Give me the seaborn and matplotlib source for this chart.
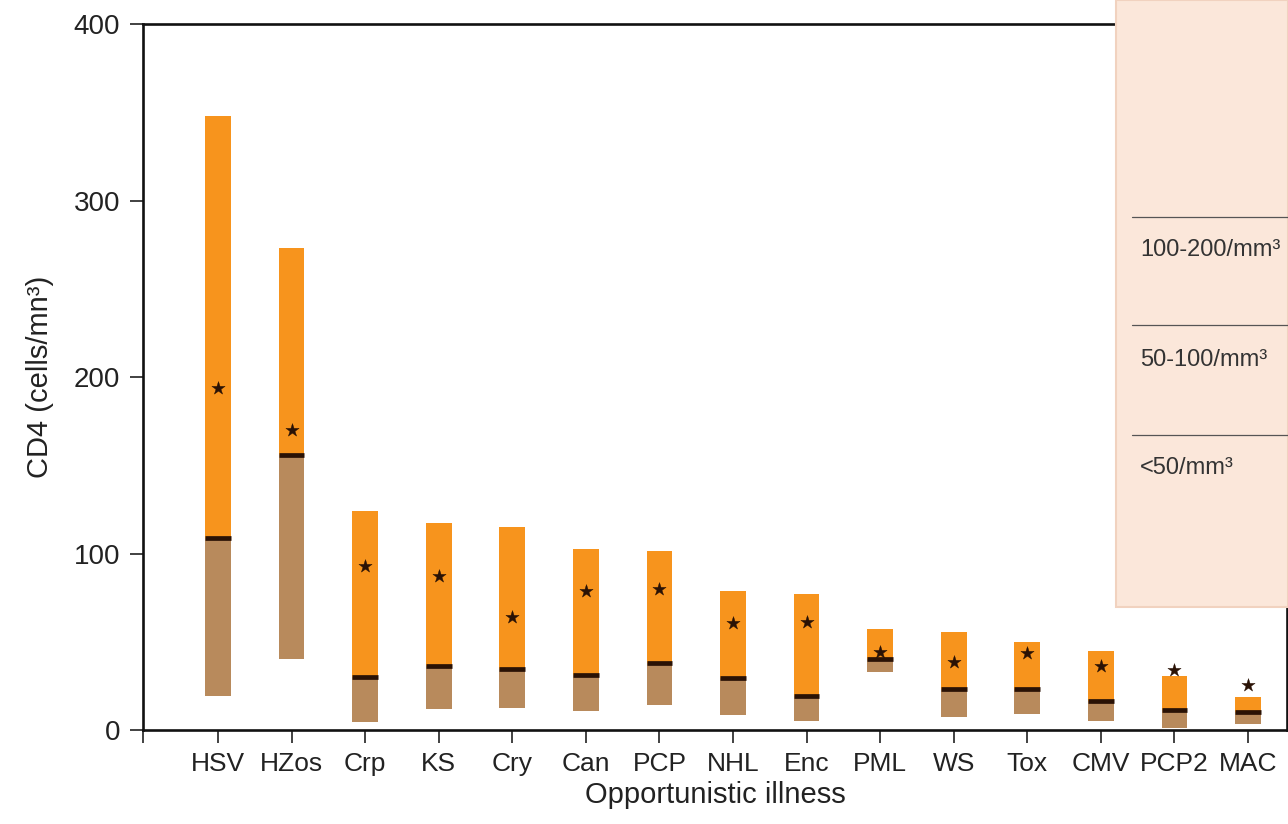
import matplotlib

matplotlib.use("Agg")
import matplotlib.pyplot as plt
import numpy as np
import pandas as pd
import seaborn as sns
from matplotlib.patches import Rectangle

# CD4 ranges per opportunistic illness
illness = ["HSV", "HZos", "Crp", "KS", "Cry", "Can", "PCP", "NHL",
           "Enc", "PML", "WS", "Tox", "CMV", "PCP2", "MAC"]
q1 = [19, 40, 4.5, 12, 12.5, 11, 14, 8.5, 5, 33, 7.5, 9, 5, 1, 3.5]
median = [109, 156, 30, 36, 34.5, 31, 38, 29.5, 19, 40, 23, 23, 16.5, 11.5, 10]
q3 = [348, 273, 124, 117, 115, 102.5, 101.5, 79, 77, 57, 55.5, 50, 45, 30.5, 18.5]
mean = [194, 170, 93, 87, 64, 79, 80, 60.5, 61, 44, 38.5, 43.5, 36, 34, 25.5]

yticks = [0, 100, 200, 300, 400]
bands = ["100-200/mm³", "50-100/mm³", "<50/mm³"]

ORANGE = "#F7941D"
BROWN = "#B88A5C"
DARK = "#2A1205"

sns.set_theme(style="ticks")
plt.rcParams["font.family"] = ["Liberation Sans", "DejaVu Sans"]

df = pd.DataFrame({"illness": illness, "q1": q1, "median": median,
                   "q3": q3, "mean": mean})
pos = np.arange(len(df))
width = 0.35

fig = plt.figure(figsize=(12.88, 8.24), dpi=100)
ax = fig.add_axes([143 / 1288, 1 - 730 / 824, 1144 / 1288, 706 / 824])

# lower part (q1 -> median) and upper part (median -> q3)
ax.bar(pos, df["median"] - df["q1"], bottom=df["q1"], width=width,
       color=BROWN, linewidth=0, zorder=2)
ax.bar(pos, df["q3"] - df["median"], bottom=df["median"], width=width,
       color=ORANGE, linewidth=0, zorder=2)
ax.hlines(df["median"], pos - width / 2, pos + width / 2, color=DARK,
          linewidth=3.4, zorder=3)
sns.scatterplot(x=pos, y=df["mean"], marker="*", s=100, color=DARK,
                edgecolor=DARK, linewidth=0.3, ax=ax, zorder=4, legend=False)

xlo, xhi = -1.02, 14.53
ax.set_xlim(xlo, xhi)
ax.set_ylim(0, 400)
ax.set_xticks(pos)
ax.set_xticklabels(illness, fontsize=19)
ax.set_xticks([xlo], minor=True)
ax.set_yticks(yticks)
ax.set_yticklabels([str(v) for v in yticks], fontsize=20)
ax.tick_params(axis="both", which="both", direction="out", length=9.5,
               width=1.3, color="#333333", labelcolor="#222222")
ax.tick_params(axis="x", pad=6)
ax.tick_params(axis="y", pad=7)
for sp in ax.spines.values():
    sp.set_visible(True)
    sp.set_linewidth(1.9)
    sp.set_color("#111111")

ax.set_xlabel("Opportunistic illness", fontsize=21, color="#222222", labelpad=4)
ax.set_ylabel("CD4 (cells/mn³)", fontsize=21, color="#222222", labelpad=14)

# peach side panel overlapping the top right of the plot
W, H = 1288, 824
panel = Rectangle((1116 / W, 1 - 607 / H), (W - 1116) / W, 607 / H,
                  transform=fig.transFigure, facecolor="#FBE7DA",
                  edgecolor="#F1D2BF", linewidth=1.5, zorder=10)
fig.add_artist(panel)
for i, (ly, ty) in enumerate([(217, 250), (325, 360), (435, 468)]):
    fig.add_artist(plt.Line2D([1132 / W, 1], [1 - ly / H, 1 - ly / H],
                              transform=fig.transFigure, color="#555555",
                              linewidth=0.9, zorder=11))
    fig.text(1140 / W, 1 - ty / H, bands[i], fontsize=17, color="#333333",
             va="center", ha="left", zorder=12)

fig.savefig("out.png", dpi=100)
plt.close(fig)
